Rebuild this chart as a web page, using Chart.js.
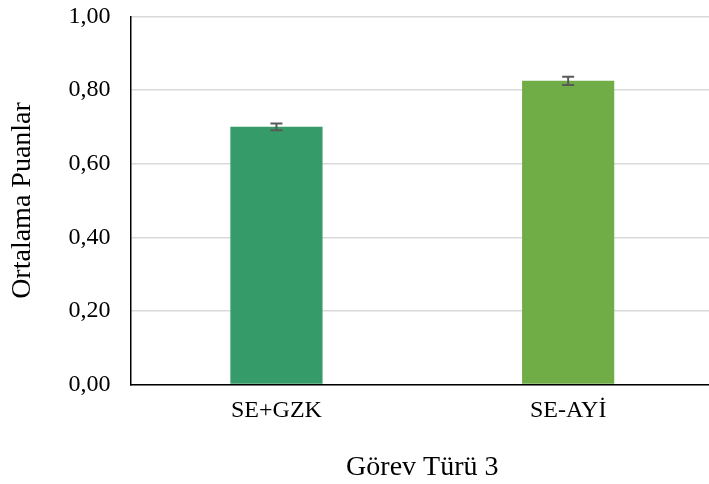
<!DOCTYPE html>
<html>
<head>
<meta charset="utf-8">
<script src="https://cdn.jsdelivr.net/npm/chart.js@4/dist/chart.umd.min.js"></script>
<style>
  html, body { margin: 0; padding: 0; background: #fff; overflow: hidden; }
  #wrap { width: 714px; height: 502px; margin-top: -18px; }
</style>
</head>
<body>
<div id="wrap"><canvas id="myChart"></canvas></div>
<script>
const categories = ["SE+GZK", "SE-AY\u0130"];
const means = [0.70, 0.825];
const errors = [0.009, 0.011];
const barColors = ["#359B68", "#70AD47"];

// draws the small error bars on top of the bars
const errorBars = {
  id: "errorBars",
  afterDatasetsDraw(chart) {
    const ctx = chart.ctx;
    const y = chart.scales.y;
    const meta = chart.getDatasetMeta(0);
    ctx.save();
    ctx.strokeStyle = "#595959";
    ctx.lineWidth = 2;
    meta.data.forEach((bar, i) => {
      const top = y.getPixelForValue(means[i] + errors[i]);
      const bottom = y.getPixelForValue(means[i] - errors[i]);
      ctx.beginPath();
      ctx.moveTo(bar.x, top);
      ctx.lineTo(bar.x, bottom);
      ctx.moveTo(bar.x - 6, top);
      ctx.lineTo(bar.x + 6, top);
      ctx.moveTo(bar.x - 6, bottom);
      ctx.lineTo(bar.x + 6, bottom);
      ctx.stroke();
    });
    ctx.restore();
  }
};

const ctx = document.getElementById("myChart").getContext("2d");
const chart = new Chart(ctx, {
  type: "bar",
  data: {
    labels: categories,
    datasets: [{
      data: means,
      backgroundColor: barColors,
      categoryPercentage: 1,
      barPercentage: 0.316
    }]
  },
  options: {
    responsive: true,
    maintainAspectRatio: false,
    animation: false,
    layout: { padding: { top: 0, left: 6, right: 0, bottom: 0 } },
    plugins: { legend: { display: false }, tooltip: { enabled: false } },
    scales: {
      x: {
        grid: { display: false, drawTicks: false },
        border: { color: "#000", width: 1.5 },
        ticks: { color: "#000", font: { family: "Liberation Serif", size: 24 }, padding: 12 },
        title: {
          display: true, text: "G\u00f6rev T\u00fcr\u00fc 3", color: "#000",
          font: { family: "Liberation Serif", size: 28 }, padding: { top: 13, bottom: 0 }
        }
      },
      y: {
        min: 0, max: 1,
        ticks: {
          stepSize: 0.2, color: "#000", padding: 20,
          font: { family: "Liberation Serif", size: 24 },
          callback: (v) => v.toFixed(2).replace(".", ",")
        },
        grid: { color: "#d9d9d9", lineWidth: 1.5, drawTicks: false },
        border: { color: "#000", width: 1.5 },
        title: {
          display: true, text: "Ortalama Puanlar", color: "#000",
          font: { family: "Liberation Serif", size: 28 }, padding: { top: 0, bottom: 9 }
        }
      }
    }
  },
  plugins: [errorBars]
});
</script>
</body>
</html>
